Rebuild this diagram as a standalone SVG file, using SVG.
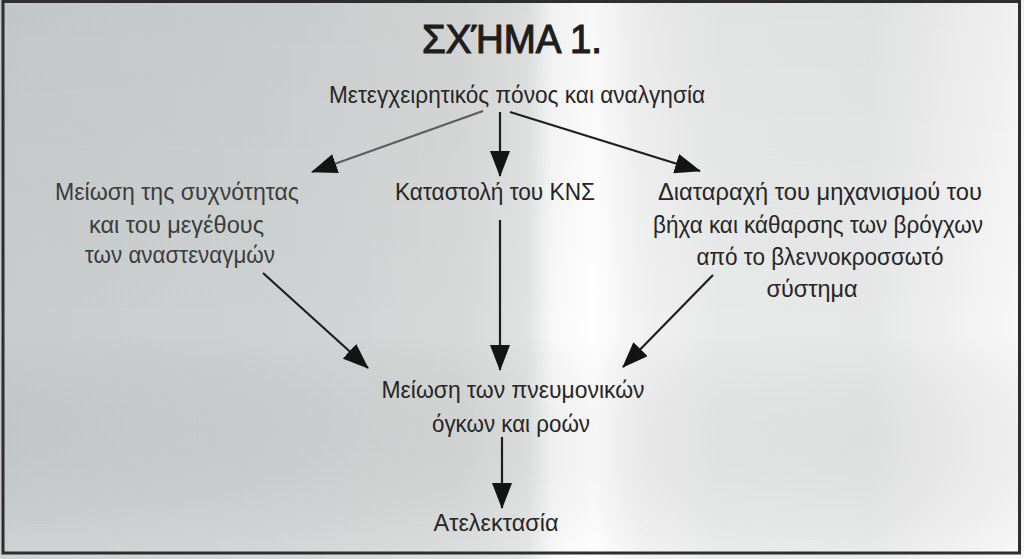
<svg xmlns="http://www.w3.org/2000/svg" width="1024" height="559" viewBox="0 0 1024 559">
  <style>
    text { font-family: "Liberation Sans", "Noto Sans", sans-serif; fill: #262626; text-anchor: middle; font-size: 23px; }
    .title { font-size: 41px; fill: #1e1e1e; stroke: #1e1e1e; stroke-width: 1.2; }
    .blur { fill: #3a3d3d; }
    .conn { stroke: #1e1e1e; stroke-width: 2.2; fill: none; marker-end: url(#arr); }
    .gray { stroke: #5a5d5d; }
  </style>
  <defs>
    <linearGradient id="bg" x1="0" y1="0" x2="1" y2="0">
      <stop offset="0" stop-color="#c9cccc"/>
      <stop offset="0.25" stop-color="#ced1d1"/>
      <stop offset="0.45" stop-color="#d7d9d9"/>
      <stop offset="0.515" stop-color="#e1e3e3"/>
      <stop offset="0.54" stop-color="#f8f8f8"/>
      <stop offset="0.58" stop-color="#ffffff"/>
      <stop offset="0.625" stop-color="#f1f1f1"/>
      <stop offset="0.7" stop-color="#e8e9e9"/>
      <stop offset="0.85" stop-color="#e6e7e7"/>
      <stop offset="0.93" stop-color="#f0f0f0"/>
      <stop offset="1" stop-color="#f8f8f8"/>
    </linearGradient>
    <linearGradient id="shade" x1="0" y1="0" x2="0" y2="1">
      <stop offset="0" stop-color="#000" stop-opacity="0.03"/>
      <stop offset="0.6" stop-color="#000" stop-opacity="0"/>
      <stop offset="1" stop-color="#fff" stop-opacity="0.15"/>
    </linearGradient>
    <marker id="arr" viewBox="0 0 26 20" refX="25" refY="10" markerWidth="26" markerHeight="20" markerUnits="userSpaceOnUse" orient="auto">
      <path d="M0,0 L26,10 L0,20 Z" fill="#141414"/>
    </marker>
  </defs>

  <rect x="0" y="0" width="1024" height="559" fill="url(#bg)"/>
  <rect x="0" y="0" width="1024" height="559" fill="url(#shade)"/>
  <rect x="3" y="1.5" width="1016.5" height="551.5" fill="none" stroke="#2e2e2e" stroke-width="3"/>

  <g id="title">
    <text class="title" x="512" y="53" textLength="180" lengthAdjust="spacingAndGlyphs">ΣΧ&#919;&#769;ΜΑ 1.</text>
  </g>

  <g id="node-pain">
    <text x="517" y="103" textLength="376" lengthAdjust="spacingAndGlyphs">Μετεγχειρητικός πόνος και αναλγησία</text>
  </g>

  <g id="node-sighs">
    <text class="blur" x="177" y="200" textLength="244" lengthAdjust="spacingAndGlyphs">Μείωση της συχνότητας</text>
    <text class="blur" x="176.5" y="233" textLength="175" lengthAdjust="spacingAndGlyphs">και του μεγέθους</text>
    <text class="blur" x="180" y="263" textLength="190" lengthAdjust="spacingAndGlyphs">των αναστεναγμών</text>
  </g>

  <g id="node-cns">
    <text x="495" y="200" textLength="200" lengthAdjust="spacingAndGlyphs">Καταστολή του ΚΝΣ</text>
  </g>

  <g id="node-cough">
    <text x="820" y="200" textLength="324" lengthAdjust="spacingAndGlyphs">Διαταραχή του μηχανισμού του</text>
    <text x="818" y="233" textLength="330" lengthAdjust="spacingAndGlyphs">βήχα και κάθαρσης των βρόγχων</text>
    <text x="820" y="265" textLength="247" lengthAdjust="spacingAndGlyphs">από το βλεννοκροσσωτό</text>
    <text x="812" y="297" textLength="91" lengthAdjust="spacingAndGlyphs">σύστημα</text>
  </g>

  <g id="node-volumes">
    <text x="513" y="398" textLength="263" lengthAdjust="spacingAndGlyphs">Μείωση των πνευμονικών</text>
    <text x="511" y="432" textLength="158" lengthAdjust="spacingAndGlyphs">όγκων και ροών</text>
  </g>

  <g id="node-atelectasis">
    <text x="496" y="531" textLength="125" lengthAdjust="spacingAndGlyphs">Ατελεκτασία</text>
  </g>

  <g id="connectors">
    <line class="conn gray" x1="483" y1="111" x2="312" y2="172"/>
    <line class="conn" x1="500" y1="112" x2="500" y2="176"/>
    <line class="conn" x1="510" y1="112" x2="700" y2="171"/>
    <line class="conn" x1="263" y1="273" x2="368" y2="368"/>
    <line class="conn" x1="500" y1="220" x2="500" y2="370"/>
    <line class="conn" x1="713" y1="275" x2="623" y2="367"/>
    <line class="conn" x1="502" y1="437" x2="502" y2="508"/>
  </g>
</svg>
